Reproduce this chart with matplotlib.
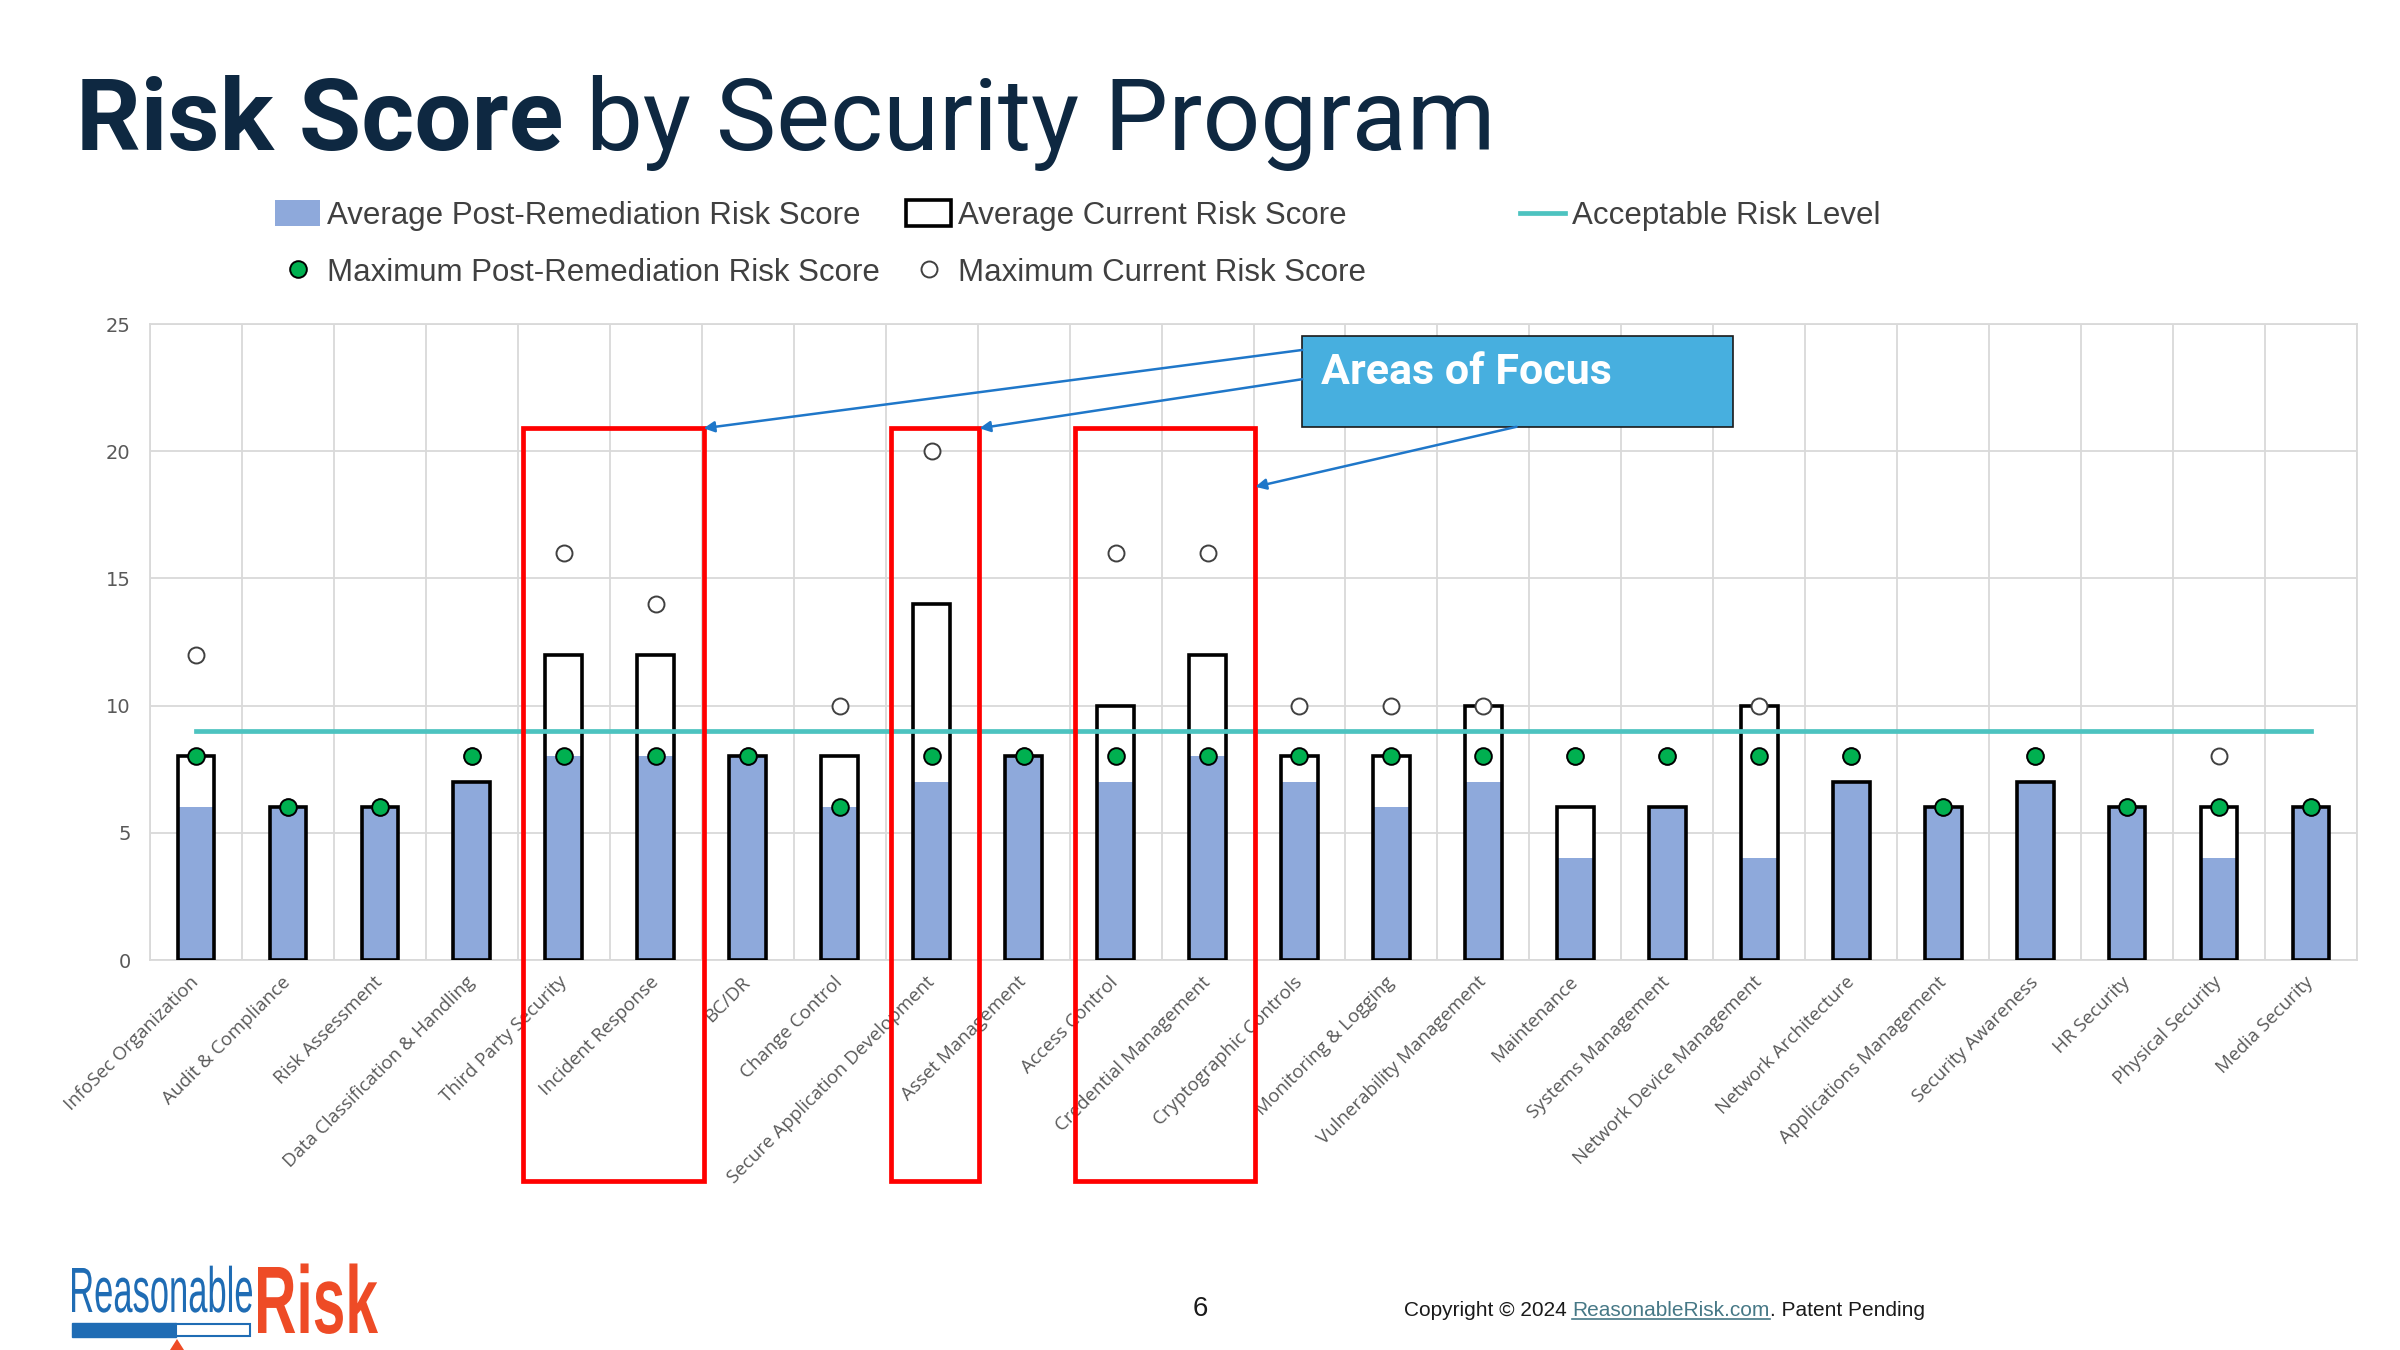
import matplotlib
matplotlib.use("Agg")
import matplotlib.pyplot as plt
from matplotlib.patches import Rectangle, Patch, Polygon, PathPatch
from matplotlib.lines import Line2D
from matplotlib.textpath import TextPath
from matplotlib.font_manager import FontProperties
from matplotlib.transforms import Affine2D
import numpy as np

programas = [
    "InfoSec Organization", "Audit & Compliance", "Risk Assessment",
    "Data Classification & Handling", "Third Party Security", "Incident Response",
    "BC/DR", "Change Control", "Secure Application Development", "Asset Management",
    "Access Control", "Credential Management", "Cryptographic Controls",
    "Monitoring & Logging", "Vulnerability Management", "Maintenance",
    "Systems Management", "Network Device Management", "Network Architecture",
    "Applications Management", "Security Awareness", "HR Security",
    "Physical Security", "Media Security",
]
riesgo_post = [6, 6, 6, 7, 8, 8, 8, 6, 7, 8, 7, 8, 7, 6, 7, 4, 6, 4, 7, 6, 7, 6, 4, 6]
riesgo_actual = [8, 6, 6, 7, 12, 12, 8, 8, 14, 8, 10, 12, 8, 8, 10, 6, 6, 10, 7, 6, 7, 6, 6, 6]
max_post = [8, 6, 6, 8, 8, 8, 8, 6, 8, 8, 8, 8, 8, 8, 8, 8, 8, 8, 8, 6, 8, 6, 6, 6]
max_actual = [12, 6, 6, 8, 16, 14, 8, 10, 20, 8, 16, 16, 10, 10, 10, 8, 8, 10, 8, 6, 8, 6, 8, 6]
nivel_aceptable = 9
areas_foco = [
    ["Third Party Security", "Incident Response"],
    ["Secure Application Development"],
    ["Access Control", "Credential Management"],
]

W, H = 2400, 1350


def fx(px):
    return px / W


def fy(py):
    return 1 - py / H


fig = plt.figure(figsize=(24, 13.5), dpi=100)
ax = fig.add_axes([fx(150), fy(960), fx(2357) - fx(150), fy(324) - fy(960)])

x = np.arange(len(programas))
ancho = 0.4

# barras: fondo blanco, relleno azul, contorno negro
ax.bar(x, riesgo_actual, width=ancho, color="white", edgecolor="none", zorder=2)
ax.bar(x, riesgo_post, width=ancho, color="#8EA9DB", edgecolor="none", zorder=3)
ax.bar(x, riesgo_actual, width=ancho, fill=False, edgecolor="black", linewidth=2.6, zorder=4)

ax.plot([x[0], x[-1]], [nivel_aceptable, nivel_aceptable], color="#4DC3C0", lw=3.4, zorder=5)
ax.plot(x, max_actual, "o", ls="none", mfc="white", mec="#404040", mew=1.4, ms=11.5, zorder=6)
ax.plot(x, max_post, "o", ls="none", mfc="#00B050", mec="black", mew=1.4, ms=12, zorder=7)

ax.set_xlim(-0.5, len(programas) - 0.5)
ax.set_ylim(0, 25)
ax.set_yticks(np.arange(0, 26, 5))
ax.set_xticks(x)
ax.set_xticklabels(programas, rotation=45, ha="right", va="center", rotation_mode="anchor",
                   fontsize=13.5, color="#595959", family="Open Sans")
ax.set_xticks(np.arange(-0.5, len(programas), 1), minor=True)
ax.tick_params(axis="both", which="both", length=0)
ax.tick_params(axis="x", pad=14)
ax.tick_params(axis="y", pad=14, labelsize=14, labelcolor="#595959")
ax.grid(axis="y", color="#D9D9D9", lw=1.3, zorder=0)
ax.grid(axis="x", which="minor", color="#D9D9D9", lw=1.3, zorder=0)
ax.grid(axis="x", which="major", visible=False)
for s in ax.spines.values():
    s.set_color("#D9D9D9")
    s.set_linewidth(1.3)
ax.set_axisbelow(True)

# recuadros rojos de las areas de foco
cajas = []
for grupo in areas_foco:
    idx = [programas.index(n) for n in grupo]
    x0, x1 = min(idx) - 0.44, max(idx) + 0.52
    r = Rectangle((x0, -8.7), x1 - x0, 20.9 + 8.7, fill=False, edgecolor="#FF0000",
                  lw=3.4, clip_on=False, zorder=8)
    ax.add_patch(r)
    cajas.append((x0, x1))

# caja "Areas of Focus"
bx0, by0, bw, bh = 12.03, 20.96, 4.68, 3.56
ax.add_patch(Rectangle((bx0, by0), bw, bh, facecolor="#47AFDF", edgecolor="#1a1a1a",
                       lw=1.2, zorder=9, clip_on=False))
ax.text(bx0 + 0.2, 23.1, "Areas of Focus", color="white", fontsize=31, fontweight="bold",
        family="Roboto", va="center", ha="left", zorder=10)

flecha = dict(arrowstyle="-|>", color="#1F77C9", lw=1.8, mutation_scale=16, shrinkA=0, shrinkB=0)
ax.annotate("", xy=(cajas[0][1], 20.9), xytext=(bx0, 23.98), arrowprops=flecha, zorder=9)
ax.annotate("", xy=(cajas[1][1], 20.9), xytext=(bx0, 22.83), arrowprops=flecha, zorder=9)
ax.annotate("", xy=(cajas[2][1], 18.6), xytext=(14.36, by0), arrowprops=flecha, zorder=9)

# leyenda
h_post = Patch(facecolor="#8EA9DB", edgecolor="none")
h_act = Patch(facecolor="white", edgecolor="black", lw=2.6)
h_mpost = Line2D([], [], marker="o", ls="none", mfc="#00B050", mec="black", mew=1.4, ms=12)
h_mact = Line2D([], [], marker="o", ls="none", mfc="white", mec="#404040", mew=1.4, ms=11.5)
h_nivel = Line2D([], [], color="#4DC3C0", lw=3.4)
ley_kw = dict(frameon=False, borderpad=0, borderaxespad=0, handlelength=1.45, handleheight=0.9,
              handletextpad=0.2, prop={"family": "Liberation Sans", "size": 22.5})
leg1 = fig.legend([h_post, h_mpost, h_act, h_mact],
                  ["Average Post-Remediation Risk Score", "Maximum Post-Remediation Risk Score",
                   "Average Current Risk Score", "Maximum Current Risk Score"],
                  ncol=2, loc="center left", bbox_to_anchor=(fx(275), fy(244)),
                  labelspacing=0.85, columnspacing=0.85, **ley_kw)
leg2 = fig.legend([h_nivel], ["Acceptable Risk Level"], loc="center left",
                  bbox_to_anchor=(fx(1520), fy(216)), **ley_kw)
for lg in (leg1, leg2):
    for t in lg.get_texts():
        t.set_color("#404040")

# titulo
fig.canvas.draw()
rend = fig.canvas.get_renderer()
t1 = fig.text(fx(76), fy(150), "Risk Score", fontsize=73, fontweight="bold", family="Roboto",
              color="#0E2841", va="baseline", ha="left")
e1 = t1.get_window_extent(renderer=rend)
fig.text(fx(e1.x1 + 22), fy(150), "by Security Program", fontsize=73, family="Roboto",
         color="#0E2841", va="baseline", ha="left")


# logo con texto comprimido
def texto_estirado(txt, x0, base, ancho_px, alto_may, color, peso="normal"):
    fp = FontProperties(family="Liberation Sans", weight=peso)
    tp = TextPath((0, 0), txt, size=100, prop=fp)
    ext = tp.get_extents()
    cap = TextPath((0, 0), "R", size=100, prop=fp).get_extents().height
    tr = Affine2D().translate(-ext.x0, 0).scale(ancho_px / ext.width, alto_may / cap)
    tr = tr.translate(x0, H - base)
    fig.add_artist(PathPatch(tp, transform=tr, facecolor=color, edgecolor="none"))


texto_estirado("Reasonable", 72, 1312, 180, 44, "#1F6CB4")
texto_estirado("Risk", 258, 1333, 120, 66, "#EE4B26", peso="bold")
fig.add_artist(Rectangle((fx(72), fy(1337)), fx(104), fy(1323) - fy(1337), transform=fig.transFigure,
                         facecolor="#1F6CB4", edgecolor="#1F6CB4", lw=1))
fig.add_artist(Rectangle((fx(176), fy(1336)), fx(74), fy(1324) - fy(1336), transform=fig.transFigure,
                         facecolor="white", edgecolor="#1F6CB4", lw=1.5))
fig.add_artist(Polygon([(fx(177), fy(1339)), (fx(170), fy(1350)), (fx(184), fy(1350))],
                       transform=fig.transFigure, facecolor="#EE4B26", edgecolor="none"))

# pie de pagina
fig.text(fx(1200), fy(1309), "6", fontsize=20, family="Liberation Sans", color="#1a1a1a",
         va="center", ha="center")
xpos = 1404
base = 1316
piezas = [("Copyright \u00a9 2024 ", "#1a1a1a"), ("ReasonableRisk.com", "#467886"),
          (". Patent Pending", "#1a1a1a")]
for i, (txt, col) in enumerate(piezas):
    t = fig.text(fx(xpos), fy(base), txt, fontsize=15, family="Liberation Sans", color=col,
                 va="baseline", ha="left")
    e = t.get_window_extent(renderer=rend)
    if i == 1:
        fig.add_artist(Line2D([fx(e.x0), fx(e.x1)], [fy(base + 3), fy(base + 3)],
                              transform=fig.transFigure, color=col, lw=1.2))
    xpos = e.x1

fig.savefig("out.png", dpi=100)
